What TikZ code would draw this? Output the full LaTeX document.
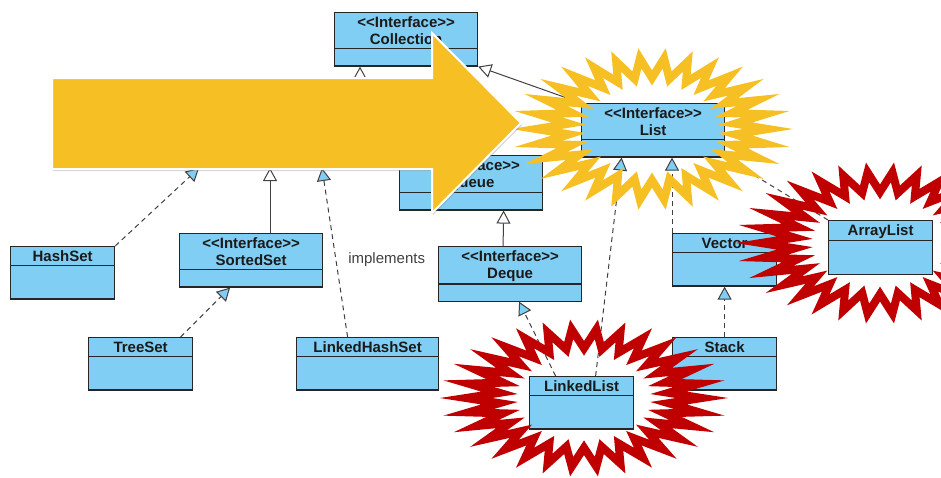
\documentclass[tikz,border=0pt]{standalone}
\usepackage{fontspec}
\setmainfont{Liberation Sans}
\usepackage{tikz}
\usetikzlibrary{arrows.meta,shapes.multipart,shadows}

\definecolor{umlblue}{HTML}{80CEF3}
\definecolor{boxline}{HTML}{262626}
\definecolor{boxtext}{HTML}{1A1A1A}
\definecolor{edgeline}{HTML}{404040}
\definecolor{burstyel}{HTML}{F6C024}
\definecolor{burstred}{HTML}{C00000}
\definecolor{arrowyel}{HTML}{F6C024}

\newcommand{\clsstrut}{\rule[-2pt]{0pt}{14.5pt}}
\newcommand{\ifacetag}{\clsstrut<{}<Interface>{}>}

\tikzset{
  umlbox/.style={rectangle split, rectangle split parts=2, draw=boxline, fill=umlblue,
    line width=1.2pt, inner xsep=0pt, inner ysep=1.5pt, text width=#1, align=center,
    anchor=north west, text=boxtext, font=\bfseries\fontsize{15}{17.5}\selectfont},
  cls/.style={umlbox=104pt, rectangle split empty part height=29.5pt},
  iface/.style={umlbox=143pt, rectangle split empty part height=13pt},
  real/.style={draw=edgeline, line width=1pt, dash pattern=on 5pt off 4pt,
    -{Triangle[width=14pt,length=13pt,fill=umlblue]}},
  gen/.style={draw=edgeline, line width=1pt, -{Triangle[width=14pt,length=13pt,fill=white]}},
  burst/.style={line width=8pt, line join=miter, miter limit=25},
  lbl/.style={font=\fontsize{15}{17}\selectfont, text=edgeline, inner sep=0pt},
}

\begin{document}
\begin{tikzpicture}[x=1pt,y=-1pt]
		\useasboundingbox (0,0) rectangle (941,477);
		
		% interfaces
		\node[iface] (coll) at (334,12) {\ifacetag\\\clsstrut Collection};
		\node[iface] (queue) at (399,155) {\ifacetag\\\clsstrut Queue};
		\node[iface] (list) at (581,103) {\ifacetag\\\clsstrut List};
		\node[iface] (sortedset) at (179,233) {\ifacetag\\\clsstrut SortedSet};
		\node[iface] (deque) at (438,246) {\ifacetag\\\clsstrut Deque};
		
		% classes
		\node[cls] (hashset) at (10,246) {\clsstrut HashSet};
		\node[cls] (treeset) at (88,337) {\clsstrut TreeSet};
		\node[cls, umlbox=142pt] (lhashset) at (296,337) {\clsstrut LinkedHashSet};
		\node[cls] (vector) at (672,233) {\clsstrut Vector};
		\node[cls] (arraylist) at (828,220) {\clsstrut ArrayList};
		\node[cls] (stack) at (672,337) {\clsstrut Stack};
		\node[cls] (llist) at (529,376) {\clsstrut LinkedList};
		
		% Set itself lies under the big arrow
		\coordinate (setA) at (199,168);
		\coordinate (setB) at (270,168);
		\coordinate (setC) at (322,168);
		\coordinate (setT) at (360,110);
		
		\draw[real] (hashset.north east) -- (setA);
		\draw[gen] (sortedset.north -| setB) -- (setB);
		\draw[real] ([xshift=-20pt]lhashset.north) -- (setC)
		node[lbl, pos=0.46, anchor=west, xshift=12pt] (impl) {implements};
		\draw[real] ([xshift=40pt]treeset.north) -- ([xshift=-21pt]sortedset.south);
		\draw[gen] (setT) -- (setT |- coll.south);
		\draw[gen] ([xshift=-7pt]deque.north) -- ([xshift=32.5pt]queue.south);
		\draw[gen] (list.north west) -- (coll.south east);
		\draw[real] ([xshift=14pt]llist.north) -- ([xshift=-31.5pt]list.south);
		\draw[real] (vector.north west) -- (vector.north west |- list.south);
		\draw[real] (arraylist.north west) -- (list.south east);
		\draw[real] ([xshift=-26pt]llist.north) -- ([xshift=9pt]deque.south);
		\draw[real] (stack.north) -- (vector.south);
		
		% starbursts
		\foreach \cx/\cy/\rx/\ry/\col in {652/129/116/71/burstyel, 584/398/118/69/burstred, 880/243/119/71/burstred}
		\draw[burst, \col] plot[samples at={0,...,59}, variable=\k]
		({\cx+\rx*(0.86+0.14*cos(180*\k))*cos(6*\k)}, {\cy+\ry*(0.86+0.14*cos(180*\k))*sin(6*\k)}) -- cycle;
		
		% big arrow
		\path[fill=arrowyel, draw=white, line width=2pt, line join=miter,
		drop shadow={shadow xshift=1pt, shadow yshift=-2pt, opacity=0.35}]
		(52,78) -- (432,78) -- (432,33) -- (521,123) -- (432,213) -- (432,169) -- (52,169) -- cycle;
		
\end{tikzpicture}
\end{document}
